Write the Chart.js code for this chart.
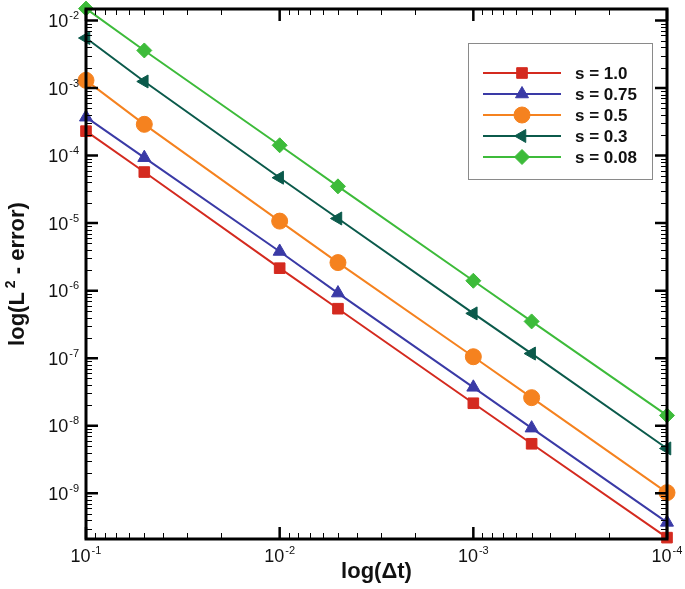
<!DOCTYPE html>
<html>
<head>
<meta charset="utf-8">
<script src="https://cdn.jsdelivr.net/npm/chart.js@4/dist/chart.umd.min.js"></script>
<style>
  html, body { margin: 0; padding: 0; background: #fff; }
  canvas { display: block; }
</style>
</head>
<body>
<canvas id="c" width="685" height="589"></canvas>
<script>
// ---- data ----
const dt = [0.1, 0.05, 0.01, 0.005, 0.001, 0.0005, 0.0001];
const err_s100 = [2.3e-4, 5.7e-5, 2.15e-6, 5.4e-7, 2.15e-8, 5.4e-9, 2.2e-10];
const err_s075 = [3.7e-4, 9.3e-5, 3.8e-6, 9.2e-7, 3.7e-8, 9.2e-9, 3.7e-10];
const err_s050 = [1.3e-3, 2.9e-4, 1.07e-5, 2.6e-6, 1.05e-7, 2.6e-8, 1.02e-9];
const err_s030 = [5.5e-3, 1.25e-3, 4.7e-5, 1.17e-5, 4.6e-7, 1.17e-7, 4.6e-9];
const err_s008 = [1.5e-2, 3.6e-3, 1.42e-4, 3.5e-5, 1.4e-6, 3.5e-7, 1.42e-8];
const seriesLabels = ['s = 1.0', 's = 0.75', 's = 0.5', 's = 0.3', 's = 0.08'];
const xMajorTicks = [1e-1, 1e-2, 1e-3, 1e-4];
const yMajorTicks = [1e-2, 1e-3, 1e-4, 1e-5, 1e-6, 1e-7, 1e-8, 1e-9];
const xTitle = 'log(\u0394t)';
const yTitleParts = ['log(L', '2', ' - error)'];

// ---- styles ----
const colors = ['#d42a1f', '#3a3aa6', '#f5821f', '#0b5a4b', '#3dbb3a'];
const styles = [
  {pointStyle: 'rect', rotation: 0, radius: 7.5},
  {pointStyle: 'triangle', rotation: 0, radius: 7.5},
  {pointStyle: 'circle', rotation: 0, radius: 8},
  {pointStyle: 'triangle', rotation: -90, radius: 7.5},
  {pointStyle: 'rectRot', rotation: 0, radius: 7.5}
];
const allSeries = [err_s100, err_s075, err_s050, err_s030, err_s008];
const FONT = '"Liberation Sans", Arial, Helvetica, sans-serif';

const datasets = allSeries.map((vals, i) => ({
  label: seriesLabels[i],
  data: dt.map((x, j) => ({x: x, y: vals[j]})),
  borderColor: colors[i],
  backgroundColor: colors[i],
  borderWidth: 2,
  pointStyle: styles[i].pointStyle,
  pointRotation: styles[i].rotation,
  pointRadius: styles[i].radius,
  pointBorderWidth: 1,
  pointBackgroundColor: colors[i],
  pointBorderColor: colors[i],
  tension: 0,
  clip: false
}));

function minorTicks(min, max) {
  const out = [];
  for (let e = Math.floor(Math.log10(min)) - 1; e <= Math.ceil(Math.log10(max)); e++) {
    for (let m = 2; m <= 9; m++) {
      const v = m * Math.pow(10, e);
      if (v > min * 1.0000001 && v < max / 1.0000001) out.push(v);
    }
  }
  return out;
}

function drawPow(ctx, x, yMid, exp, align) {
  const base = '10', sup = String(exp);
  ctx.font = '18px ' + FONT;
  const wb = ctx.measureText(base).width;
  ctx.font = '11px ' + FONT;
  const ws = ctx.measureText(sup).width;
  const total = wb + ws + 1;
  let x0 = align === 'right' ? x - total : x - total / 2;
  ctx.textAlign = 'left';
  ctx.textBaseline = 'alphabetic';
  ctx.fillStyle = '#111';
  ctx.font = '18px ' + FONT;
  const baseY = yMid + 6.5;
  ctx.fillText(base, x0, baseY);
  ctx.font = '11px ' + FONT;
  ctx.fillText(sup, x0 + wb + 1, baseY - 8);
}

const framePlugin = {
  id: 'frame',
  afterDatasetsDraw(chart) {
    const ctx = chart.ctx;
    const a = chart.chartArea;
    const xs = chart.scales.x, ys = chart.scales.y;
    ctx.save();
    ctx.strokeStyle = '#000';
    ctx.lineCap = 'butt';
    // minor ticks
    ctx.lineWidth = 1;
    ctx.beginPath();
    minorTicks(xs.min, xs.max).forEach(v => {
      const px = Math.round(xs.getPixelForValue(v)) + 0.5;
      ctx.moveTo(px, a.bottom); ctx.lineTo(px, a.bottom - 6);
      ctx.moveTo(px, a.top); ctx.lineTo(px, a.top + 6);
    });
    minorTicks(ys.min, ys.max).forEach(v => {
      const py = Math.round(ys.getPixelForValue(v)) + 0.5;
      ctx.moveTo(a.left, py); ctx.lineTo(a.left + 6, py);
      ctx.moveTo(a.right, py); ctx.lineTo(a.right - 6, py);
    });
    ctx.stroke();
    // major ticks
    ctx.lineWidth = 2.5;
    ctx.beginPath();
    xMajorTicks.forEach(v => {
      const px = xs.getPixelForValue(v);
      ctx.moveTo(px, a.bottom); ctx.lineTo(px, a.bottom - 12);
      ctx.moveTo(px, a.top); ctx.lineTo(px, a.top + 12);
    });
    yMajorTicks.forEach(v => {
      const py = ys.getPixelForValue(v);
      ctx.moveTo(a.left, py); ctx.lineTo(a.left + 12, py);
      ctx.moveTo(a.right, py); ctx.lineTo(a.right - 12, py);
    });
    ctx.stroke();
    // frame
    ctx.lineWidth = 3;
    ctx.strokeRect(a.left, a.top, a.right - a.left, a.bottom - a.top);
    // tick labels
    xMajorTicks.forEach(v => {
      drawPow(ctx, xs.getPixelForValue(v), a.bottom + 16, Math.round(Math.log10(v)), 'center');
    });
    yMajorTicks.forEach(v => {
      drawPow(ctx, a.left - 7, ys.getPixelForValue(v), Math.round(Math.log10(v)), 'right');
    });
    // y title
    ctx.save();
    ctx.translate(24, (a.top + a.bottom) / 2);
    ctx.rotate(-Math.PI / 2);
    ctx.fillStyle = '#111';
    ctx.textBaseline = 'alphabetic';
    ctx.textAlign = 'left';
    const fMain = 'bold 22px ' + FONT, fSup = 'bold 14px ' + FONT;
    ctx.font = fMain;
    const w1 = ctx.measureText(yTitleParts[0]).width;
    const w3 = ctx.measureText(yTitleParts[2]).width;
    ctx.font = fSup;
    const w2 = ctx.measureText(yTitleParts[1]).width;
    const gap = 4;
    const tot = w1 + gap + w2 + w3;
    let x0 = -tot / 2;
    ctx.font = fMain;
    ctx.fillText(yTitleParts[0], x0, 0);
    ctx.font = fSup;
    ctx.fillText(yTitleParts[1], x0 + w1 + gap, -9);
    ctx.font = fMain;
    ctx.fillText(yTitleParts[2], x0 + w1 + gap + w2, 0);
    ctx.restore();
    // legend
    const lx = 468, ly = 43, lw = 184, lh = 136;
    ctx.lineWidth = 1;
    ctx.strokeStyle = '#8a8a8a';
    ctx.strokeRect(lx + 0.5, ly + 0.5, lw, lh);
    chart.data.datasets.forEach((ds, i) => {
      const ry = 73 + i * 21;
      ctx.strokeStyle = ds.borderColor;
      ctx.lineWidth = 2;
      ctx.beginPath();
      ctx.moveTo(483, ry); ctx.lineTo(561, ry);
      ctx.stroke();
      ctx.fillStyle = ds.backgroundColor;
      ctx.strokeStyle = ds.borderColor;
      ctx.lineWidth = 1;
      Chart.helpers.drawPoint(ctx, {
        pointStyle: ds.pointStyle, rotation: ds.pointRotation,
        radius: ds.pointRadius, borderWidth: 1
      }, 522, ry);
      ctx.fillStyle = '#111';
      ctx.font = 'bold 17px ' + FONT;
      ctx.textAlign = 'left';
      ctx.textBaseline = 'middle';
      ctx.fillText(ds.label, 575, ry + 1);
    });
    ctx.restore();
  }
};

new Chart(document.getElementById('c'), {
  type: 'line',
  data: {datasets: datasets},
  options: {
    responsive: false,
    animation: false,
    layout: {padding: {top: 9, right: 18, left: 0, bottom: 0}},
    plugins: {legend: {display: false}, tooltip: {enabled: false}},
    scales: {
      x: {
        type: 'logarithmic', reverse: true, min: 1e-4, max: 0.1,
        ticks: {display: false}, grid: {display: false}, border: {display: false},
        title: {display: true, text: xTitle, color: '#111',
                font: {family: FONT, size: 22, weight: 'bold'}, padding: {top: 0, bottom: 4}},
        afterFit: s => { s.height = 50; }
      },
      y: {
        type: 'logarithmic', min: 2.1e-10, max: 0.0148,
        ticks: {display: false}, grid: {display: false}, border: {display: false},
        afterFit: s => { s.width = 86; }
      }
    }
  },
  plugins: [framePlugin]
});
</script>
</body>
</html>
